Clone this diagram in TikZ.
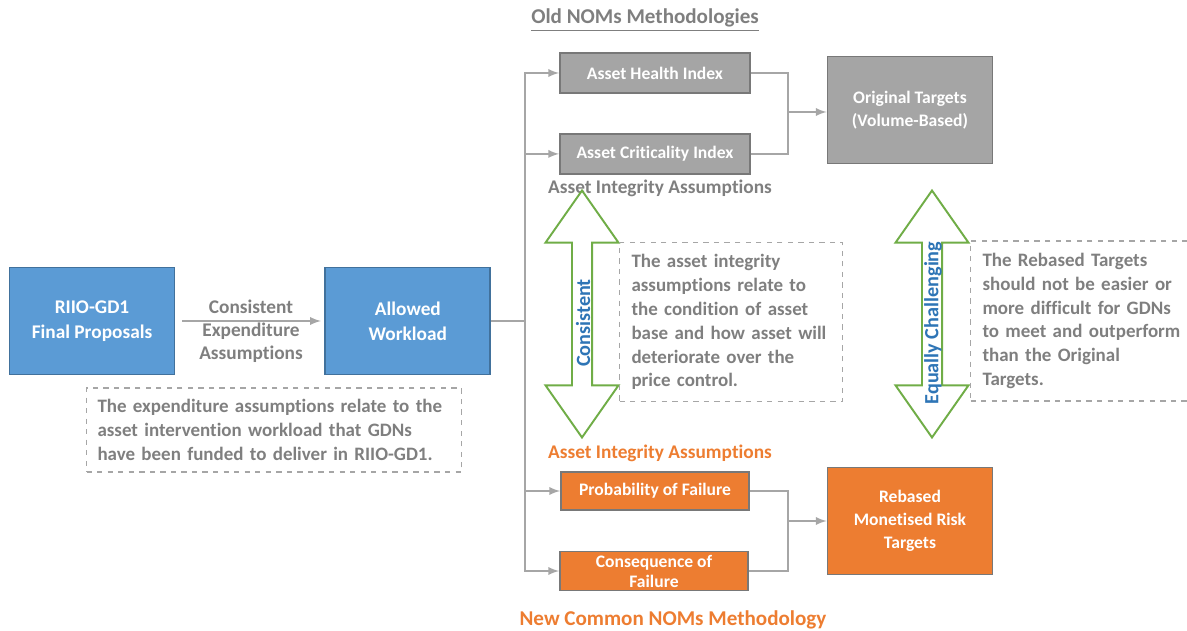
\documentclass[tikz,border=0pt]{standalone}
\usepackage{fontspec}
\setmainfont{Carlito}[Ligatures=NoCommon]
\usetikzlibrary{positioning}
\usetikzlibrary{calc}
\usetikzlibrary{shapes.arrows}
\definecolor{boxblue}{HTML}{5B9BD5}
\definecolor{edgeblue}{HTML}{41719C}
\definecolor{boxgray}{HTML}{A5A5A5}
\definecolor{edgegray}{HTML}{787878}
\definecolor{boxorange}{HTML}{ED7D31}
\definecolor{linegray}{HTML}{A6A6A6}
\definecolor{textgray}{HTML}{7F7F7F}
\definecolor{arrowgreen}{HTML}{70AD47}
\definecolor{labelblue}{HTML}{2E75B6}
\tikzstyle{bluebox} = [draw=edgeblue, fill=boxblue, line width=1.1pt, text=white, align=center, minimum width=3.3cm, minimum height=2.14cm, font=\bfseries\fontsize{11}{14}\selectfont]
\tikzstyle{target} = [draw=edgegray, line width=1.1pt, text=white, align=center, minimum width=3.3cm, minimum height=2.14cm, font=\bfseries\fontsize{10}{13}\selectfont]
\tikzstyle{index} = [draw=edgegray, fill=boxgray, line width=1.1pt, text=white, minimum width=3.8cm, minimum height=0.8cm, font=\bfseries\fontsize{10}{12}\selectfont]
\tikzstyle{risk} = [draw=edgegray, fill=boxorange, line width=1.1pt, text=white, align=center, minimum width=3.76cm, minimum height=0.76cm, inner sep=0pt, font=\bfseries\fontsize{10}{11.4}\selectfont]
\tikzstyle{note} = [draw=linegray, dashed, line width=0.6pt, text=textgray, align=left, font=\bfseries\fontsize{10.8}{13.6}\selectfont]
\tikzstyle{caption} = [text=textgray, align=center, font=\bfseries\fontsize{11}{13.2}\selectfont]
\tikzstyle{heading} = [font=\bfseries\fontsize{12}{14}\selectfont]
\tikzstyle{both} = [double arrow, draw=arrowgreen, fill=white, line width=1.1pt, rotate=90, minimum height=4.94cm, minimum width=1.46cm, double arrow head extend=0.36cm, double arrow tip angle=70]
\tikzstyle{arrowtext} = [rotate=90, text=labelblue, font=\bfseries\fontsize{11.5}{13}\selectfont]
\tikzstyle{link} = [draw=linegray, line width=1.1pt]
\tikzstyle{coord} = [coordinate]

\begin{document}
\begin{tikzpicture}[x=0.02cm, y=-0.02cm, >=latex]
    \useasboundingbox (0,0) rectangle (1187,631);

    \node [bluebox] (riio) at (92,321) {RIIO-GD1\\Final Proposals};
    \node [bluebox, right = 2.98cm of riio] (allowed) {Allowed\\Workload};
    \node [caption] (explabel) at (251,331) {Consistent\\Expenditure\\Assumptions};
    \node [note, minimum width=7.5cm, minimum height=1.68cm, text width=7.06cm, inner sep=0.22cm] (expnote) at (274,430) {The expenditure assumptions relate to the\\asset intervention workload that GDNs\\have been funded to deliver in RIIO-GD1.};

    \node [heading, text=textgray] (oldtitle) at (645,20) {\underline{Old NOMs Methodologies}};
    \node [index] (health) at (655,73) {Asset Health Index};
    \node [index, below = 0.78cm of health] (crit) {Asset Criticality Index};
    \node [caption] (oldassume) at (660,188) {Asset Integrity Assumptions};
    \node [target, fill=boxgray] (orig) at (910,110) {Original Targets\\(Volume-Based)};

    \node [both] (consistent) at (582,314) {};
    \node [arrowtext] (consistenttext) at (583,323) {Consistent};
    \node [note, minimum width=4.46cm, minimum height=3.16cm, text width=3.98cm, inner sep=0.24cm] (assetnote) at (731,322) {The asset integrity\\assumptions relate to\\the condition of asset\\base and how asset will\\deteriorate over the\\price control.};
    \node [both] (equal) at (932,314) {};
    \node [arrowtext] (equaltext) at (933,323) {Equally Challenging};
    \node [note, anchor=west, minimum height=3.16cm, text width=4.2cm, inner sep=0.24cm] (rebasenote) at (970,321) {The Rebased Targets\\should not be easier or\\more difficult for GDNs\\to meet and outperform\\than the Original\\Targets.};

    \node [caption, text=boxorange] (newassume) at (660,453) {Asset Integrity Assumptions};
    \node [risk] (pof) at (655,491) {Probability of Failure};
    \node [risk, minimum height=0.78cm] (cof) at (654,571) {Consequence of\\Failure};
    \node [target, fill=boxorange] (rebased) at (910,521) {Rebased\\Monetised Risk\\Targets};
    \node [heading, text=boxorange] (newtitle) at (673,622) {\underline{New Common NOMs Methodology}};

    \node [coord] (split) at (525,321) {};
    \node [coord] (join1) at (788,112) {};
    \node [coord] (join2) at (788,521) {};

    \draw [link, ->, shorten <=4pt, shorten >=2pt] (riio) -- (allowed); % connections
    \draw [link] (allowed) -- (split);
    \draw [link, ->] (split) |- (health);
    \draw [link, ->] (split) |- (crit);
    \draw [link, ->] (split) |- (pof);
    \draw [link, ->] (split) |- (cof);

    \draw [link] (health) -| (join1) |- (crit);
    \draw [link, ->] (join1) -- (orig.west |- join1);
    \draw [link] (pof) -| (join2) |- (cof);
    \draw [link, ->] (join2) -- (rebased);
\end{tikzpicture}
\end{document}
